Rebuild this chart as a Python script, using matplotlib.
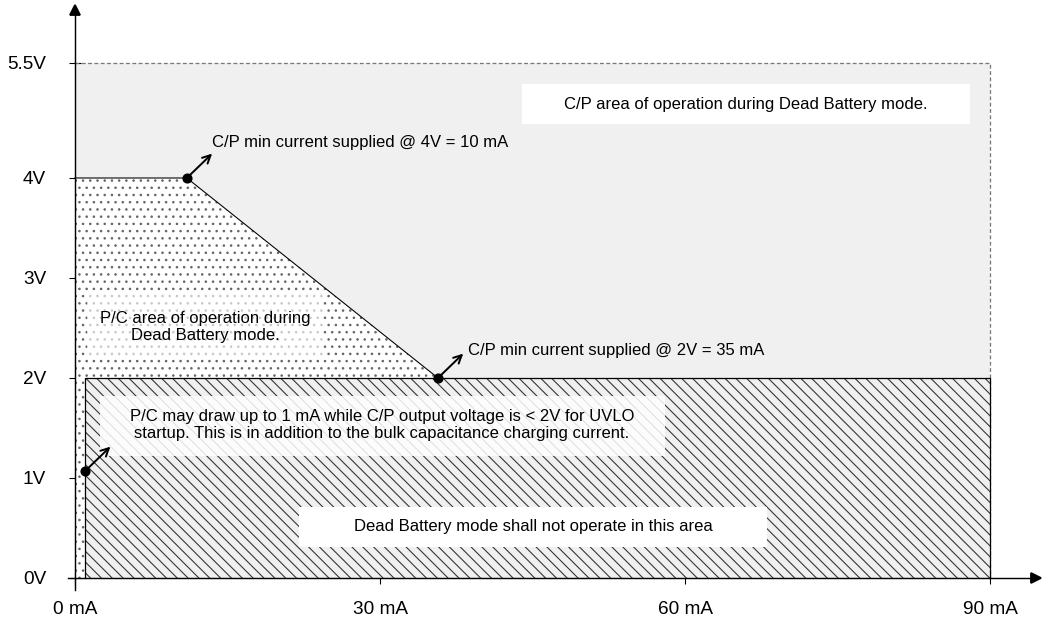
import numpy as np
import matplotlib
matplotlib.use("Agg")
import matplotlib.pyplot as plt
from matplotlib.patches import Polygon, Rectangle

plt.rcParams['font.family'] = ['Liberation Sans', 'DejaVu Sans']
plt.rcParams['hatch.linewidth'] = 0.6

# ---- data (mA, V) ----
x_ticks = [0, 30, 60, 90]
x_labels = ['0 mA', '30 mA', '60 mA', '90 mA']
y_ticks = [0, 1, 2, 3, 4, 5.5]
y_labels = ['0V', '1V', '2V', '3V', '4V', '5.5V']

i_max, v_max = 90, 5.5          # C/P operating area
uvlo_i, uvlo_v = 1, 2           # P/C allowed draw below 2V
pc_i = [0, 0, 11, 35.7, 35.7]   # P/C area outline
pc_v = [0, 4, 4, 2, 0]
pts_i = [11, 35.7, 1]
pts_v = [4, 2, 1.07]

# y axis compressed above 4V (as in the drawing)
K = 0.7667
def fwd(v):
    v = np.asarray(v, float)
    return np.where(v <= 4, v, 4 + (v - 4) * K)
def inv(s):
    s = np.asarray(s, float)
    return np.where(s <= 4, s, 4 + (s - 4) / K)

W, H = 1042, 623
fig = plt.figure(figsize=(W / 130, H / 130), dpi=130)
ax = fig.add_axes([0, 0, 1, 1])
ax.set_yscale('function', functions=(fwd, inv))
ax.set_xlim(-75 / 10.1667, (W - 75) / 10.1667)
ax.set_ylim(-0.45, float(inv(5.78)))

def px(x, y):
    return x / W, 1 - y / H

# C/P area background
ax.add_patch(Rectangle((0, 0), i_max, v_max, facecolor='#f0f0f0', edgecolor='none', zorder=1))
ax.plot([0, i_max, i_max], [v_max, v_max, 0], color='#777777', lw=0.7, ls=(0, (3, 2)), zorder=2)

# P/C area (dotted)
ax.add_patch(Polygon(list(zip(pc_i, pc_v)), closed=True, facecolor='white',
                     edgecolor='#666666', hatch='...', lw=0, zorder=2))
ax.plot(pc_i[1:4], pc_v[1:4], color='black', lw=0.6, zorder=4)

# not-allowed area (hatched)
ax.add_patch(Rectangle((uvlo_i, 0), i_max - uvlo_i, uvlo_v, facecolor='#f0f0f0',
                       edgecolor='#333333', hatch='\\\\\\\\', lw=0, zorder=3))
ax.plot([uvlo_i, uvlo_i, i_max, i_max], [0, uvlo_v, uvlo_v, 0], color='black', lw=0.7, zorder=4)

# boxes
def box(x0, y0, x1, y1, alpha=1.0):
    a, b = px(x0, y1)
    c, d = px(x1, y0)
    ax.add_patch(Rectangle((a, b), c - a, d - b, transform=ax.transAxes,
                           facecolor='white', edgecolor='none', alpha=alpha, zorder=5))

fs = 9.2
box(522, 84, 970, 124)
ax.text(*px(746, 104), 'C/P area of operation during Dead Battery mode.', transform=ax.transAxes,
        ha='center', va='center', fontsize=fs, zorder=6)
box(87, 295, 323, 355, alpha=0.65)
ax.text(*px(205, 327), 'P/C area of operation during\nDead Battery mode.', transform=ax.transAxes,
        ha='center', va='center', fontsize=fs, linespacing=1.2, zorder=6)
box(100, 396, 665, 456, alpha=0.85)
ax.text(*px(382, 425), 'P/C may draw up to 1 mA while C/P output voltage is < 2V for UVLO\n'
        'startup. This is in addition to the bulk capacitance charging current.',
        transform=ax.transAxes, ha='center', va='center', fontsize=fs, linespacing=1.2, zorder=6)
box(299, 507, 767, 547)
ax.text(*px(533, 527), 'Dead Battery mode shall not operate in this area', transform=ax.transAxes,
        ha='center', va='center', fontsize=fs, zorder=6)

# points with arrows
ax.plot(pts_i, pts_v, 'o', color='black', ms=4.6, zorder=7)
for xi, yi in zip(pts_i, pts_v):
    ax.annotate('', xy=(xi, yi), xytext=(14, 13.5), textcoords='offset points',
                arrowprops=dict(arrowstyle='<-', color='black', lw=1.1, shrinkA=0, shrinkB=2,
                                mutation_scale=11), zorder=7)
ax.text(*px(212, 143), 'C/P min current supplied @ 4V = 10 mA', transform=ax.transAxes,
        ha='left', va='center', fontsize=fs, zorder=6)
ax.text(*px(468, 351), 'C/P min current supplied @ 2V = 35 mA', transform=ax.transAxes,
        ha='left', va='center', fontsize=fs, zorder=6)

# axes lines with arrows
for s in ['top', 'right']:
    ax.spines[s].set_visible(False)
ax.spines['left'].set_position(('data', 0))
ax.spines['bottom'].set_position(('data', 0))
y_top = float(inv(5.68))
x_end = 94.5
ax.spines['left'].set_bounds(-0.12, y_top)
ax.spines['bottom'].set_bounds(-0.7, x_end)
for s in ['left', 'bottom']:
    ax.spines[s].set_linewidth(0.8)
    ax.spines[s].set_zorder(8)
ax.plot([0], [y_top], marker='^', ms=6, color='black', clip_on=False, zorder=9)
ax.plot([x_end], [0], marker='>', ms=6, color='black', clip_on=False, zorder=9)

ax.set_xticks(x_ticks, x_labels)
ax.set_yticks(y_ticks, y_labels)
ax.tick_params(direction='inout', length=7, width=0.6, labelsize=10.5)
ax.tick_params(axis='x', pad=9.5)
ax.tick_params(axis='y', pad=12.5)
ax.minorticks_off()

fig.savefig('out.png', dpi=130)
